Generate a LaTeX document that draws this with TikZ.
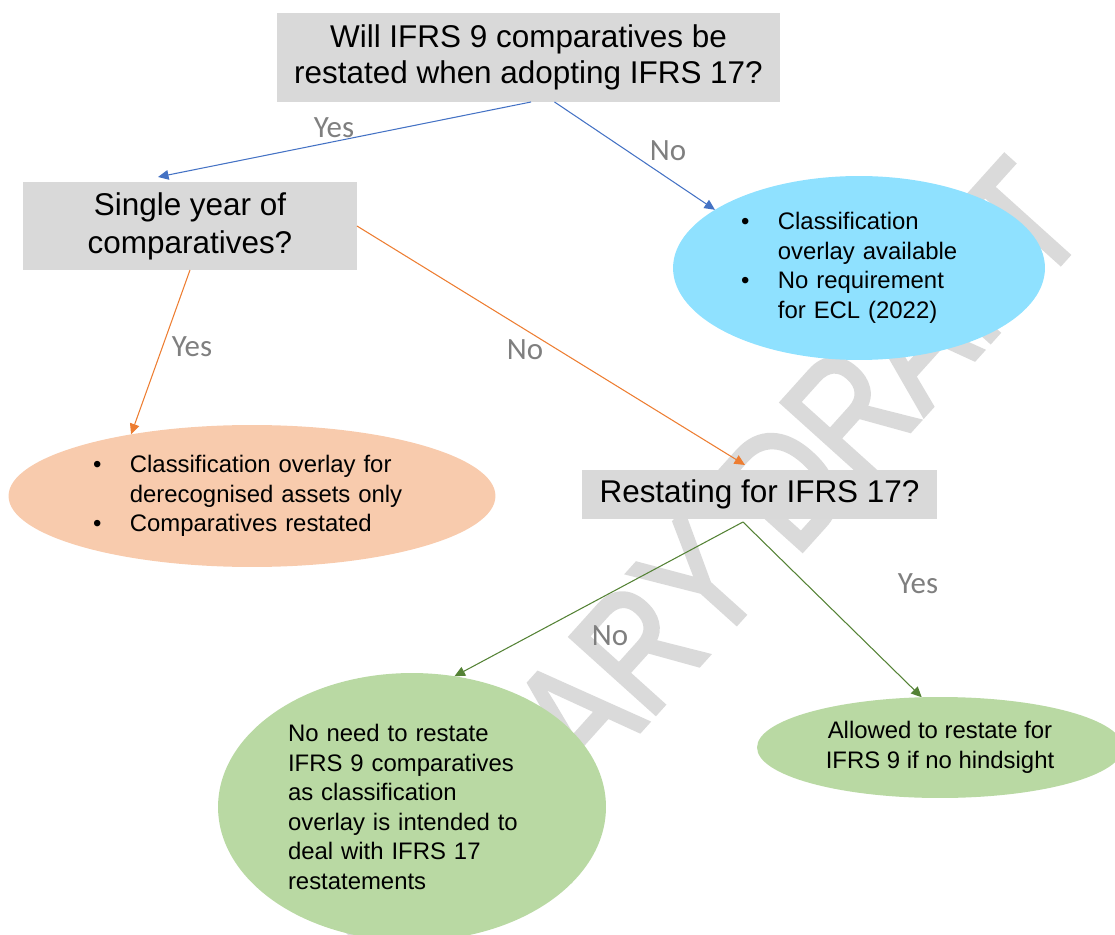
\documentclass[tikz,border=0pt]{standalone}
\usepackage{fontspec}
\setmainfont{Liberation Sans}
\newfontfamily\lblfont{Carlito}
\newfontfamily\wmfont[FakeBold=2.5]{Liberation Sans}
\usetikzlibrary{shapes.geometric,arrows.meta}
\definecolor{boxgray}{HTML}{D9D9D9}
\definecolor{skyfill}{HTML}{8FE1FF}
\definecolor{peachfill}{HTML}{F8CBAD}
\definecolor{leaffill}{HTML}{B9D9A3}
\definecolor{arrblue}{HTML}{4472C4}
\definecolor{arrorange}{HTML}{ED7D31}
\definecolor{arrgreen}{HTML}{548235}
\definecolor{lblgray}{HTML}{7F7F7F}
\definecolor{wmgray}{HTML}{DADADA}
\newcommand{\bul}{\makebox[21pt][l]{\textbullet}}
\newcommand{\ind}{\hspace*{21pt}}
\tikzset{
  qbox/.style={fill=boxgray, inner sep=0pt, outer sep=0pt, align=center, font=\fontsize{17.9}{20.5}\selectfont},
  bubble/.style={ellipse, inner sep=0pt, outer sep=0pt, font=\fontsize{13.6}{16.8}\selectfont},
  lbl/.style={text=lblgray, font=\lblfont\fontsize{17.6}{20}\selectfont},
  link/.style={line width=0.6pt, -{Triangle[length=6pt,width=5.5pt]}},
}
\begin{document}
\begin{tikzpicture}[x=0.02cm, y=-0.02cm]
\useasboundingbox (0,0) rectangle (1115,935);
% watermark
\node[text=wmgray, font=\wmfont\fontsize{94.7}{100}\selectfont, rotate=48, xscale=0.8, anchor=base] (wm) at (630,742) {PRELIMINARY DRAFT};

\node[qbox, minimum width=10.06cm, minimum height=1.78cm] (q1) at (528.5,57.5) {Will IFRS 9 comparatives be\\restated when adopting IFRS 17?};
\node[qbox, minimum width=6.68cm, minimum height=1.76cm, font=\fontsize{17.9}{21.5}\selectfont] (q2) at (190,226) {Single year of\\comparatives?};
\node[qbox, minimum width=7.1cm, minimum height=0.98cm] (q3) at (759.5,494.5) {Restating for IFRS 17?};

\node[bubble, fill=skyfill, minimum width=7.44cm, minimum height=3.68cm, text width=4.72cm, align=left] (noecl) at (859,268) {\bul Classification\\\ind overlay available\\\bul No requirement\\\ind for ECL (2022)};
\node[bubble, fill=peachfill, minimum width=9.74cm, minimum height=2.84cm, text width=6.36cm, align=left] (derec) at (252,496) {\bul Classification overlay for\\\ind derecognised assets only\\\bul Comparatives restated};
\node[bubble, fill=leaffill, minimum width=7.76cm, minimum height=5.36cm, text width=4.96cm, align=left] (noneed) at (412,807) {No need to restate\\IFRS 9 comparatives\\as classification\\overlay is intended to\\deal with IFRS 17\\restatements};
\node[bubble, fill=leaffill, minimum width=7.32cm, minimum height=2.02cm, align=center] (allowed) at (940,747.5) {Allowed to restate for\\IFRS 9 if no hindsight};

\draw[link, arrblue] ([shift={(2.5,0)}]q1.south) -- ([shift={(-32,-5)}]q2.north);
\draw[link, arrblue] ([shift={(26,0)}]q1.south) -- (noecl.158);
\draw[link, arrorange] (q2.south) -- (derec.153);
\draw[link, arrorange] (q2.east) -- ([shift={(-14.5,-5)}]q3.north);
\draw[link, arrgreen] ([shift={(-16.5,3)}]q3.south) -- (noneed.72);
\draw[link, arrgreen] ([shift={(-16.5,3)}]q3.south) -- (allowed.110);

\node[lbl] (yes1) at (334,128) {Yes};
\node[lbl] (no1) at (668,151) {No};
\node[lbl] (yes2) at (192,347) {Yes};
\node[lbl] (no2) at (525,350) {No};
\node[lbl] (no3) at (610,636) {No};
\node[lbl] (yes3) at (918,584) {Yes};
\end{tikzpicture}
\end{document}
